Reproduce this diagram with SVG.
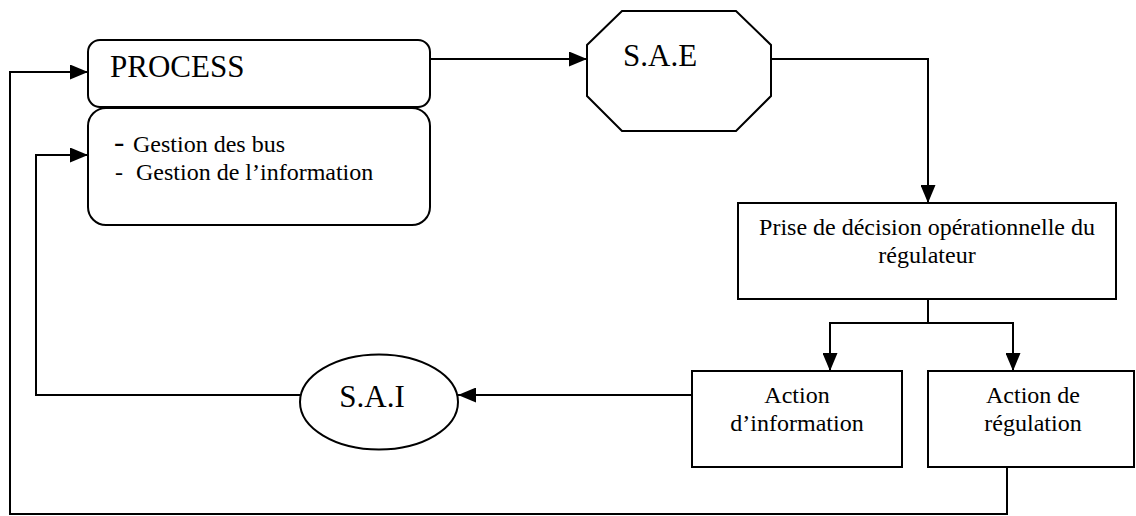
<svg xmlns="http://www.w3.org/2000/svg" width="1136" height="516" viewBox="0 0 1136 516">
  <style>
    .shape { fill: #ffffff; stroke: #000000; stroke-width: 2; }
    .wire { fill: none; stroke: #000000; stroke-width: 2; }
    .big { font-family: "Liberation Serif", "Times New Roman", serif; font-size: 31px; fill: #000000; }
    .txt { font-family: "Liberation Serif", "Times New Roman", serif; font-size: 24px; fill: #000000; }
    .mid { text-anchor: middle; }
  </style>
  <defs>
    <marker id="arrow" markerUnits="userSpaceOnUse" markerWidth="18" markerHeight="15" refX="18" refY="7.5" orient="auto">
      <path d="M0,0 L18,7.5 L0,15 Z" fill="#000000"/>
    </marker>
  </defs>

  <!-- connectors -->
  <g id="connectors">
    <path class="wire" d="M430,59 H587" marker-end="url(#arrow)"/>
    <path class="wire" d="M771,59 H928 V203" marker-end="url(#arrow)"/>
    <path class="wire" d="M928,299 V323 H830 V371" marker-end="url(#arrow)"/>
    <path class="wire" d="M928,323 H1013 V371" marker-end="url(#arrow)"/>
    <path class="wire" d="M692,395 H458" marker-end="url(#arrow)"/>
    <path class="wire" d="M300,395 H36 V155 H88" marker-end="url(#arrow)"/>
    <path class="wire" d="M1007,467 V514 H10 V72 H88" marker-end="url(#arrow)"/>
  </g>

  <!-- process box -->
  <g id="process">
    <rect class="shape" x="88" y="40" width="342" height="67" rx="12" ry="12"/>
    <text class="big" x="110" y="77">PROCESS</text>
  </g>

  <!-- process tasks -->
  <g id="process-tasks">
    <rect class="shape" x="88" y="108" width="342" height="117" rx="18" ry="18"/>
    <text class="big" x="114" y="152">-</text>
    <text class="txt" x="133" y="152">Gestion des bus</text>
    <text class="txt" x="115" y="180">-</text>
    <text class="txt" x="136" y="180">Gestion de l’information</text>
  </g>

  <!-- S.A.E octagon -->
  <g id="sae">
    <polygon class="shape" points="622,11 736,11 771,45 771,96 736,131 622,131 587,96 587,45"/>
    <text class="big" x="623" y="66">S.A.E</text>
  </g>

  <!-- operational decision -->
  <g id="decision">
    <rect class="shape" x="738" y="203" width="378" height="96"/>
    <text class="txt mid" x="927" y="235">Prise de décision opérationnelle du</text>
    <text class="txt mid" x="927" y="263">régulateur</text>
  </g>

  <!-- information action -->
  <g id="action-information">
    <rect class="shape" x="692" y="371" width="210" height="96"/>
    <text class="txt mid" x="797" y="403">Action</text>
    <text class="txt mid" x="797" y="431">d’information</text>
  </g>

  <!-- regulation action -->
  <g id="action-regulation">
    <rect class="shape" x="928" y="371" width="206" height="96"/>
    <text class="txt mid" x="1033" y="403">Action de</text>
    <text class="txt mid" x="1033" y="431">régulation</text>
  </g>

  <!-- S.A.I ellipse -->
  <g id="sai">
    <ellipse class="shape" cx="379" cy="402" rx="79" ry="47.5"/>
    <text class="big mid" x="372" y="407">S.A.I</text>
  </g>
</svg>
